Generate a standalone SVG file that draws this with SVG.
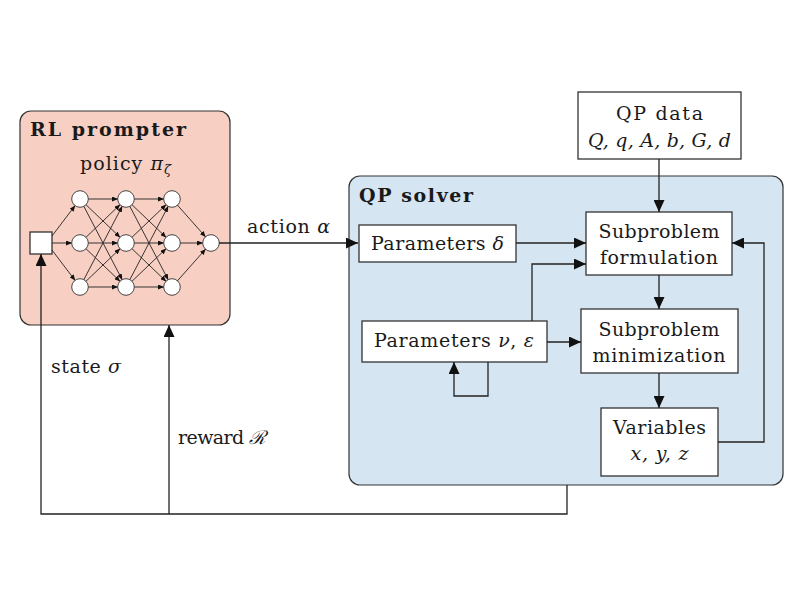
<svg xmlns="http://www.w3.org/2000/svg" width="800" height="600" viewBox="0 0 800 600">
<defs>
<marker id="big" markerUnits="userSpaceOnUse" markerWidth="12" markerHeight="11" refX="12" refY="5.5" orient="auto"><path d="M0,0 L12,5.5 L0,11 z" fill="#111"/></marker>
<marker id="sm" markerUnits="userSpaceOnUse" markerWidth="6" markerHeight="5" refX="6" refY="2.5" orient="auto"><path d="M0,0 L6,2.5 L0,5 z" fill="#111"/></marker>
</defs>
<style>
text{font-family:"DejaVu Serif","Liberation Serif",serif;fill:#1a1a1a}
.t{font-size:19px}
.b{font-size:19px;font-weight:bold}
.i{font-style:italic}
.box{fill:#fff;stroke:#333;stroke-width:1.3}
.c{fill:none;stroke:#222;stroke-width:1.3}
.nn line{stroke:#222;stroke-width:0.9;marker-end:url(#sm)}
.nn circle{fill:#fff;stroke:#333;stroke-width:0.9}
</style>
<rect width="800" height="600" fill="#fff"/>

<g id="rl-prompter">
<rect x="20" y="111" width="210" height="214" rx="11" fill="#f8cfc3" stroke="#333" stroke-width="1.2"/>
<text class="b" x="30" y="136" textLength="156">RL prompter</text>
<text class="t" x="80" y="170" textLength="91">policy <tspan class="i">π</tspan><tspan class="i" font-size="13" dy="4">ζ</tspan></text>
<g class="nn">
<rect x="30" y="232" width="22" height="22" class="box" stroke-width="1"/>
<line x1="52" y1="236" x2="75.2" y2="205.4"/>
<line x1="52" y1="243" x2="72" y2="243"/>
<line x1="52" y1="250" x2="75.2" y2="280.6"/>
<line x1="88" y1="199" x2="118" y2="199"/>
<line x1="88" y1="243" x2="118" y2="243"/>
<line x1="88" y1="287" x2="118" y2="287"/>
<line x1="85.78" y1="204.53" x2="120.22" y2="237.47"/>
<line x1="85.78" y1="248.53" x2="120.22" y2="281.47"/>
<line x1="85.78" y1="237.47" x2="120.22" y2="204.53"/>
<line x1="85.78" y1="281.47" x2="120.22" y2="248.53"/>
<line x1="83.71" y1="206.09" x2="122.29" y2="279.91"/>
<line x1="83.71" y1="279.91" x2="122.29" y2="206.09"/>
<line x1="134" y1="199" x2="164" y2="199"/>
<line x1="134" y1="243" x2="164" y2="243"/>
<line x1="134" y1="287" x2="164" y2="287"/>
<line x1="131.78" y1="204.53" x2="166.22" y2="237.47"/>
<line x1="131.78" y1="248.53" x2="166.22" y2="281.47"/>
<line x1="131.78" y1="237.47" x2="166.22" y2="204.53"/>
<line x1="131.78" y1="281.47" x2="166.22" y2="248.53"/>
<line x1="129.71" y1="206.09" x2="168.29" y2="279.91"/>
<line x1="129.71" y1="279.91" x2="168.29" y2="206.09"/>
<line x1="180" y1="243" x2="203" y2="243"/>
<line x1="177.31" y1="204.99" x2="205.69" y2="237.01"/>
<line x1="177.31" y1="281.01" x2="205.69" y2="248.99"/>
<circle cx="80" cy="199" r="8.3"/><circle cx="80" cy="243" r="8.3"/><circle cx="80" cy="287" r="8.3"/>
<circle cx="126" cy="199" r="8.3"/><circle cx="126" cy="243" r="8.3"/><circle cx="126" cy="287" r="8.3"/>
<circle cx="172" cy="199" r="8.3"/><circle cx="172" cy="243" r="8.3"/><circle cx="172" cy="287" r="8.3"/>
<circle cx="211" cy="243" r="8.3"/>
</g>
</g>

<g id="qp-solver">
<rect x="349" y="176" width="434" height="309" rx="11" fill="#d5e6f2" stroke="#333" stroke-width="1.2"/>
<text class="b" x="359" y="202" textLength="114">QP solver</text>
</g>

<g id="qp-data">
<rect x="578" y="92" width="163" height="67" class="box"/>
<text class="t" x="659.5" y="120" text-anchor="middle" textLength="87">QP data</text>
<text class="t i" x="659.5" y="147" text-anchor="middle" textLength="143">Q, q, A, b, G, d</text>
</g>

<g id="params-delta">
<rect x="359" y="225" width="157" height="37" class="box"/>
<text class="t" x="371" y="250" textLength="133">Parameters <tspan class="i">δ</tspan></text>
</g>

<g id="params-nu-eps">
<rect x="362" y="321" width="185" height="41" class="box"/>
<text class="t" x="374" y="347" textLength="160">Parameters <tspan class="i">ν</tspan>, <tspan class="i">ε</tspan></text>
</g>

<g id="subproblem-formulation">
<rect x="586" y="212" width="146" height="63" class="box"/>
<text class="t" x="659" y="238" text-anchor="middle" textLength="121">Subproblem</text>
<text class="t" x="659" y="264" text-anchor="middle" textLength="118">formulation</text>
</g>

<g id="subproblem-minimization">
<rect x="581" y="309" width="157" height="64" class="box"/>
<text class="t" x="659" y="336" text-anchor="middle" textLength="121">Subproblem</text>
<text class="t" x="659" y="362" text-anchor="middle" textLength="133">minimization</text>
</g>

<g id="variables">
<rect x="601" y="408" width="117" height="68" class="box"/>
<text class="t" x="659.5" y="434" text-anchor="middle" textLength="93">Variables</text>
<text class="t i" x="659.5" y="460" text-anchor="middle" textLength="58">x, y, z</text>
</g>

<g id="connectors">
<path class="c" d="M219,243 H358" marker-end="url(#big)"/>
<path class="c" d="M659,159 V212" marker-end="url(#big)"/>
<path class="c" d="M516,243 H586" marker-end="url(#big)"/>
<path class="c" d="M532,321 V264 H586" marker-end="url(#big)"/>
<path class="c" d="M547,342 H581" marker-end="url(#big)"/>
<path class="c" d="M488,362 V396 H454 V362" marker-end="url(#big)"/>
<path class="c" d="M659,275 V309" marker-end="url(#big)"/>
<path class="c" d="M659,373 V408" marker-end="url(#big)"/>
<path class="c" d="M718,442 H764 V243 H732" marker-end="url(#big)"/>
<path class="c" d="M567,485 V514 H41 V254" marker-end="url(#big)"/>
<path class="c" d="M169,514 V325" marker-end="url(#big)"/>
</g>

<g id="labels">
<text class="t" x="247" y="233" textLength="83">action <tspan class="i">α</tspan></text>
<text class="t" x="51" y="373" textLength="70">state <tspan class="i">σ</tspan></text>
<text class="t" x="178" y="444" textLength="88">reward <tspan class="i">ℛ</tspan></text>
</g>
</svg>
